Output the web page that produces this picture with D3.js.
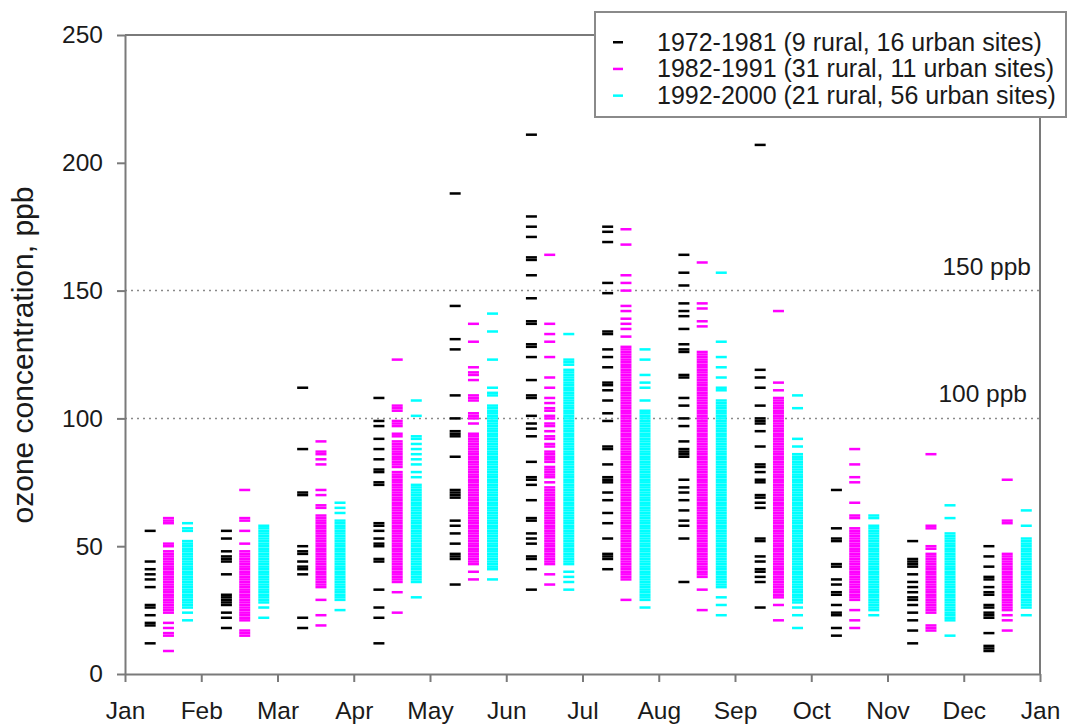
<!DOCTYPE html>
<html>
<head>
<meta charset="utf-8">
<script src="https://cdn.jsdelivr.net/npm/d3@7"></script>
<style>
  html, body { margin: 0; padding: 0; background: #fff; }
  svg { display: block; font-family: "Liberation Sans", Arial, Helvetica, sans-serif; }
</style>
</head>
<body>
<svg id="chart" width="1068" height="724"></svg>
<script>
// ---- data ----
const monthLabels = ["Jan","Feb","Mar","Apr","May","Jun","Jul","Aug","Sep","Oct","Nov","Dec","Jan"];
const yTicks = [0, 50, 100, 150, 200, 250];
const refLines = [150, 100];
const refLabels = ["150 ppb", "100 ppb"];
const seriesNames = ["1972-1981 (9 rural, 16 urban sites)", "1982-1991 (31 rural, 11 urban sites)", "1992-2000 (21 rural, 56 urban sites)"];

// values (ppb) per month, Jan..Dec
const ozone1972 = [
  [56,44,41,39,37,34,27,26,23,20,19,12],
  [56,53,48,46,45,44,39,31,30,29,28,27,24,22,18],
  [112,88,71,70,50,48,47,44,42,41,39,22,18],
  [108,99,97,92,88,84,80,79,75,74,59,58,56,53,51,50,45,44,33,26,22,12],
  [188,144,131,127,109,100,95,94,93,85,72,71,70,69,60,58,55,51,47,46,45,35],
  [211,179,175,171,163,162,156,147,138,137,129,128,124,115,109,108,101,98,96,93,83,77,76,74,68,61,60,55,53,51,46,45,41,33],
  [175,173,169,153,149,134,133,127,124,120,114,113,111,107,102,99,89,88,82,77,76,75,71,68,63,59,53,47,46,45,41],
  [164,157,152,145,142,140,135,129,127,126,117,116,108,105,100,97,91,88,87,86,85,76,73,71,68,64,60,58,53,36],
  [207,119,116,112,105,100,99,98,95,89,82,81,79,76,75,70,69,67,65,53,52,46,44,41,40,38,36,26],
  [72,57,53,52,43,42,37,35,32,31,27,24,23,18,15],
  [52,45,44,43,42,39,36,34,32,30,29,27,24,21,17,12],
  [50,46,42,38,37,34,32,31,27,26,24,23,22,16,11,10,9]
];

const ozone1982 = [
  [61,60,59,51,50,48,47,46,45,44,43,42,41,40,39,38,37,36,35,34,33,32,31,30,29,28,27,26,25,24,20,18,16,15,9],
  [72,61,60,56,51,48,47,46,45,44,43,42,41,40,39,38,37,36,35,34,33,32,31,30,29,28,27,26,25,24,23,22,21,17,16,15],
  [91,87,86,84,82,72,70,66,65,62,61,60,59,58,57,56,55,54,53,52,51,50,49,48,47,46,45,44,43,42,41,40,39,38,37,36,35,34,29,23,19],
  [123,105,104,103,99,98,97,94,93,91,90,89,88,87,86,85,84,83,82,81,79,78,77,76,75,74,73,72,71,70,69,68,67,66,65,64,63,62,61,60,59,58,57,56,55,54,53,52,51,50,49,48,47,46,45,44,43,42,41,40,39,38,37,36,32,24],
  [137,130,120,118,117,115,109,108,107,102,101,100,98,94,93,92,91,90,89,88,87,86,85,84,83,82,81,80,79,78,77,76,75,74,73,72,71,70,69,68,67,66,65,64,63,62,61,60,59,58,57,56,55,54,53,52,51,50,49,48,47,46,45,44,43,40,37],
  [164,137,133,130,124,116,112,108,106,104,103,101,100,98,97,95,93,92,90,89,87,86,85,84,83,81,80,79,78,77,75,73,72,71,70,69,68,67,66,65,64,63,62,61,60,59,58,57,56,55,54,53,52,51,50,49,48,47,46,45,44,43,39,35],
  [174,168,156,153,150,144,142,139,137,135,132,128,127,126,125,124,123,122,121,120,119,118,117,116,115,114,113,112,111,110,109,108,107,106,105,104,103,102,101,100,99,98,97,96,95,94,93,92,91,90,89,88,87,86,85,84,83,82,81,80,79,78,77,76,75,74,73,72,71,70,69,68,67,66,65,64,63,62,61,60,59,58,57,56,55,54,53,52,51,50,49,48,47,46,45,44,43,42,41,40,39,38,37,29],
  [161,145,143,138,136,126,125,124,123,122,121,120,119,118,117,116,115,114,113,112,111,110,109,108,107,106,105,104,103,102,101,100,99,98,97,96,95,94,93,92,91,90,89,88,87,86,85,84,83,82,81,80,79,78,77,76,75,74,73,72,71,70,69,68,67,66,65,64,63,62,61,60,59,58,57,56,55,54,53,52,51,50,49,48,47,46,45,44,43,42,41,40,39,38,33,25],
  [142,114,111,108,107,106,105,104,103,102,101,100,99,98,97,96,95,94,93,92,91,90,89,88,87,86,85,84,83,82,81,80,79,78,77,76,75,74,73,72,71,70,69,68,67,66,65,64,63,62,61,60,59,58,57,56,55,54,53,52,51,50,49,48,47,46,45,44,43,42,41,40,39,38,37,36,35,34,33,32,31,30,27,21],
  [88,82,77,75,67,62,61,57,56,55,54,53,52,51,50,49,48,47,46,45,44,43,42,41,40,39,38,37,36,35,34,33,32,31,30,29,25,21,18],
  [86,58,57,50,49,47,46,45,44,43,42,41,40,39,38,37,36,35,34,33,32,31,30,29,28,27,26,25,24,19,18,17],
  [76,60,59,47,46,45,44,43,42,41,40,39,38,37,36,35,34,33,32,31,30,29,28,27,26,25,23,21,17]
];

const ozone1992 = [
  [59,57,56,52,51,50,49,48,47,46,45,44,43,42,41,40,39,38,37,36,35,34,33,32,31,30,29,28,27,26,24,21],
  [58,57,56,55,54,53,52,51,50,49,48,47,46,45,44,43,42,41,40,39,38,37,36,35,34,33,32,31,30,29,28,26,22],
  [67,65,63,60,59,58,57,56,55,54,53,52,51,50,49,48,47,46,45,44,43,42,41,40,39,38,37,36,35,34,33,32,31,30,29,25],
  [107,101,93,92,90,88,86,84,82,79,77,74,73,72,71,70,69,68,67,66,65,64,63,62,61,60,59,58,57,56,55,54,53,52,51,50,49,48,47,46,45,44,43,42,41,40,39,38,37,36,30],
  [141,134,123,112,110,109,105,104,103,102,101,100,99,98,97,96,95,94,93,92,91,90,89,88,87,86,85,84,83,82,81,80,79,78,77,76,75,74,73,72,71,70,69,68,67,66,65,64,63,62,61,60,59,58,57,56,55,54,53,52,51,50,49,48,47,46,45,44,43,42,41,37],
  [133,123,122,121,119,118,117,116,115,114,113,112,111,110,109,108,107,106,105,104,103,102,101,100,99,98,97,96,95,94,93,92,91,90,89,88,87,86,85,84,83,82,81,80,79,78,77,76,75,74,73,72,71,70,69,68,67,66,65,64,63,62,61,60,59,58,57,56,55,54,53,52,51,50,49,48,47,46,45,44,43,40,38,36,33],
  [127,123,117,114,112,107,103,102,101,100,99,98,97,96,95,94,93,92,91,90,89,88,87,86,85,84,83,82,81,80,79,78,77,76,75,74,73,72,71,70,69,68,67,66,65,64,63,62,61,60,59,58,57,56,55,54,53,52,51,50,49,48,47,46,45,44,43,42,41,40,39,38,37,36,35,34,33,32,31,30,29,26],
  [157,130,124,120,116,112,111,107,106,105,104,103,102,101,100,99,98,97,96,95,94,93,92,91,90,89,88,87,86,85,84,83,82,81,80,79,78,77,76,75,74,73,72,71,70,69,68,67,66,65,64,63,62,61,60,59,58,57,56,55,54,53,52,51,50,49,48,47,46,45,44,43,42,41,40,39,38,37,36,35,34,30,27,23],
  [109,104,92,89,86,85,84,83,82,81,80,79,78,77,76,75,74,73,72,71,70,69,68,67,66,65,64,63,62,61,60,59,58,57,56,55,54,53,52,51,50,49,48,47,46,45,44,43,42,41,40,39,38,37,36,35,34,33,32,31,30,29,28,26,23,18],
  [62,61,58,57,56,55,54,53,52,51,50,49,48,47,46,45,44,43,42,41,40,39,38,37,36,35,34,33,32,31,30,29,28,27,26,25,23],
  [66,61,55,54,53,52,51,50,49,48,47,46,45,44,43,42,41,40,39,38,37,36,35,34,33,32,31,30,29,28,27,26,25,24,23,22,21,15],
  [64,58,53,52,51,50,49,48,47,46,45,44,43,42,41,40,39,38,37,36,35,34,33,32,31,30,29,28,27,26,23]
];

// ---- layout / style ----
const seriesData = [ozone1972, ozone1982, ozone1992];
const seriesColors = ["#000000", "#ff00ff", "#00ffff"];
const seriesOffsets = [0.33, 0.57, 0.82]; // position within month
const axisColor = "#7a7a7a";
const textColor = "#1a1a1a";

const svg = d3.select("#chart");
const x = d3.scaleLinear().domain([0, 12]).range([125, 1040]);
const y = d3.scaleLinear().domain([0, 250]).range([674, 35]);

// reference dotted lines
svg.append("g").selectAll("line").data(refLines).join("line")
  .attr("x1", x(0)).attr("x2", x(12))
  .attr("y1", d => y(d)).attr("y2", d => y(d))
  .attr("stroke", "#8a8a8a").attr("stroke-width", 1.5)
  .attr("stroke-dasharray", "2,4");
svg.append("g").selectAll("text").data(refLines).join("text")
  .attr("x", (d, i) => i === 0 ? 1031 : 1027)
  .attr("y", d => y(d) - 16)
  .attr("text-anchor", "end")
  .attr("font-size", 24.5).attr("fill", textColor)
  .text((d, i) => refLabels[i]);

// dashes
const flat = [];
seriesData.forEach((ser, si) => {
  ser.forEach((vals, mi) => {
    vals.forEach(v => flat.push({ si, mi, v }));
  });
});
svg.append("g").selectAll("rect").data(flat).join("rect")
  .attr("x", d => x(d.mi + seriesOffsets[d.si]) - 5.5)
  .attr("y", d => y(d.v) - 1.25)
  .attr("width", 11).attr("height", 2.5)
  .attr("fill", d => seriesColors[d.si]);

// axes
const xAxis = d3.axisBottom(x).tickValues(d3.range(13)).tickFormat(i => monthLabels[i])
  .tickSize(8).tickPadding(20).tickSizeOuter(0);
const gx = svg.append("g").attr("transform", `translate(0,${y(0)})`).call(xAxis);
const yAxis = d3.axisLeft(y).tickValues(yTicks).tickSize(8).tickPadding(14).tickSizeOuter(0);
const gy = svg.append("g").attr("transform", `translate(${x(0)},0)`).call(yAxis);
[gx, gy].forEach(g => {
  g.select(".domain").attr("stroke", axisColor).attr("stroke-width", 2);
  g.selectAll(".tick line").attr("stroke", axisColor).attr("stroke-width", 2);
  g.selectAll(".tick text").attr("font-size", 24.5).attr("fill", textColor)
    .attr("font-family", '"Liberation Sans", Arial, sans-serif');
});
// frame top/right
svg.append("path")
  .attr("d", `M${x(0)},${y(250)}H${x(12)}V${y(0)}`)
  .attr("fill", "none").attr("stroke", axisColor).attr("stroke-width", 2);

// y title
svg.append("text")
  .attr("transform", `translate(33,355) rotate(-90)`)
  .attr("text-anchor", "middle")
  .attr("font-size", 30).attr("fill", textColor)
  .text("ozone concentration, ppb");

// legend
const lg = svg.append("g");
lg.append("rect").attr("x", 595).attr("y", 12).attr("width", 471).attr("height", 105)
  .attr("fill", "#fff").attr("stroke", "#8a8a8a").attr("stroke-width", 2);
const rows = lg.selectAll("g.row").data(seriesNames).join("g").attr("class", "row")
  .attr("transform", (d, i) => `translate(0,${42 + i * 26.7})`);
rows.append("rect").attr("x", 613).attr("y", -1).attr("width", 10).attr("height", 2.5)
  .attr("fill", (d, i) => seriesColors[i]);
rows.append("text").attr("x", 657).attr("y", 8.5)
  .attr("font-size", 25).attr("fill", textColor).text(d => d);
</script>
</body>
</html>
